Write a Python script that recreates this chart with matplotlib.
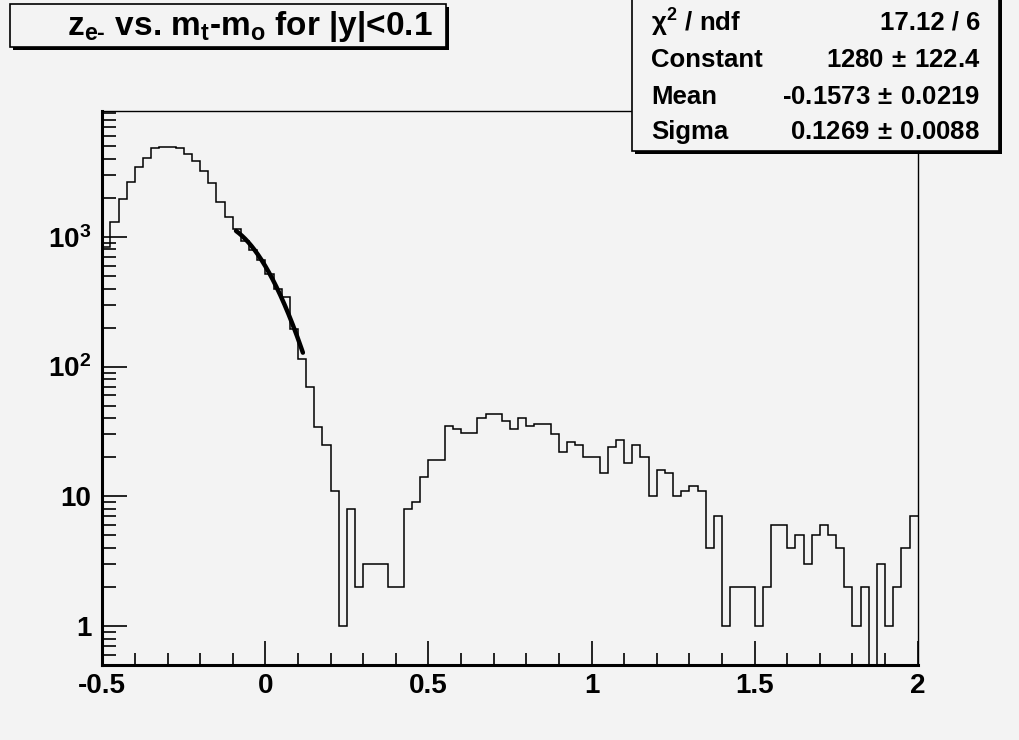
import numpy as np
import matplotlib
matplotlib.use("Agg")
import matplotlib.pyplot as plt
from matplotlib.ticker import FixedLocator, FixedFormatter, NullFormatter

plt.rcParams['font.family'] = ['Liberation Sans', 'DejaVu Sans']
plt.rcParams['font.weight'] = 'bold'
plt.rcParams['mathtext.fontset'] = 'custom'
plt.rcParams['mathtext.rm'] = 'Liberation Sans:bold'
plt.rcParams['mathtext.it'] = 'Liberation Sans:bold'
plt.rcParams['mathtext.bf'] = 'Liberation Sans:bold'

# histogram: 100 bins from -0.5 to 2
x_lo, x_hi, n_bins = -0.5, 2.0, 100
counts = [840, 1300, 1960, 2650, 3440, 4040, 4820, 4910, 4910, 4820,
          4360, 3830, 3220, 2590, 1850, 1416, 1145, 930, 793, 664,
          515, 394, 342, 194, 114, 70, 34, 25, 11, 1,
          8, 2, 3, 3, 3, 2, 2, 8, 9, 14,
          19, 19, 35, 33, 31, 31, 40, 43, 43, 38,
          33, 40, 35, 36, 36, 30, 22, 26, 25, 20,
          20, 15, 24, 27, 18, 25, 20, 10, 16, 15,
          10, 11, 12, 11, 4, 7, 1, 2, 2, 2,
          1, 2, 6, 6, 4, 5, 3, 5, 6, 5,
          4, 2, 1, 2, 0, 3, 1, 2, 4, 7]

# gaussian fit result
fit_const, fit_mean, fit_sigma = 1280, -0.1573, 0.1269
fit_range = (-0.09, 0.115)

stats_names = [r'$\chi^{2}$ / ndf', 'Constant', 'Mean', 'Sigma']
stats_vals = ['17.12 / 6', r'1280$\,\pm\,$122.4', r'-0.1573$\,\pm\,$0.0219', r'0.1269$\,\pm\,$0.0088']

y_ticks = [1, 10, 100, 1000]
y_labels = ['1', '10', r'$10^{2}$', r'$10^{3}$']
x_ticks = [-0.5, 0, 0.5, 1, 1.5, 2]
x_labels = ['-0.5', '0', '0.5', '1', '1.5', '2']

bg = '#f3f3f3'
fig = plt.figure(figsize=(10.2, 7.4), dpi=100, facecolor=bg)
ax = fig.add_axes([102.3 / 1020, 1 - 665 / 740, 815.4 / 1020, 554 / 740])
ax.set_facecolor(bg)

edges = np.linspace(x_lo, x_hi, n_bins + 1)
ax.stairs(counts, edges, color='black', linewidth=1.1, baseline=None)

xf = np.linspace(fit_range[0], fit_range[1], 200)
ax.plot(xf, fit_const * np.exp(-0.5 * ((xf - fit_mean) / fit_sigma) ** 2),
        color='black', linewidth=3.2, solid_capstyle='round')

ax.set_yscale('log')
ax.set_xlim(x_lo, x_hi)
ax.set_ylim(0.5, 9350)

ax.yaxis.set_major_locator(FixedLocator(y_ticks))
ax.yaxis.set_major_formatter(FixedFormatter(y_labels))
minor_y = [m * 10.0 ** d for d in range(-1, 4) for m in range(2, 10)]
ax.yaxis.set_minor_locator(FixedLocator(minor_y))
ax.yaxis.set_minor_formatter(NullFormatter())
ax.xaxis.set_major_locator(FixedLocator(x_ticks))
ax.xaxis.set_major_formatter(FixedFormatter(x_labels))
ax.xaxis.set_minor_locator(FixedLocator(np.arange(-0.4, 2.0, 0.1)))

ax.tick_params(which='both', direction='in', top=False, right=False, colors='black',
               labelsize=20, width=1.2)
ax.tick_params(axis='y', which='major', length=18, pad=8)
ax.tick_params(axis='y', which='minor', length=10)
ax.tick_params(axis='x', which='major', length=17, pad=6)
ax.tick_params(axis='x', which='minor', length=9)
for s in ['left', 'bottom']:
    ax.spines[s].set_linewidth(2.2)
for s in ['top', 'right']:
    ax.spines[s].set_linewidth(1.0)

# boxes with drop shadow, ROOT style
def pbox(x0, y0, x1, y1):
    W, H = 1020, 740
    sh = plt.Rectangle(((x0 + 3) / W, 1 - (y1 + 3) / H), (x1 - x0) / W, (y1 - y0) / H,
                       transform=fig.transFigure, facecolor='black', edgecolor='none')
    bx = plt.Rectangle((x0 / W, 1 - y1 / H), (x1 - x0) / W, (y1 - y0) / H,
                       transform=fig.transFigure, facecolor=bg, edgecolor='black', linewidth=1.2)
    fig.patches.extend([sh, bx])

pbox(10, 4, 446, 47)
fig.text(433 / 1020, 1 - 27 / 740, r'z$_{\rm e\text{-}}$ vs. m$_{\rm t}$-m$_{\rm o}$ for |y|<0.1',
         ha='right', va='center', fontsize=24, fontweight='bold')

pbox(632, -5, 999, 151)
row_y = [23, 60, 97, 132]
for name, val, yy in zip(stats_names, stats_vals, row_y):
    fig.text(651 / 1020, 1 - yy / 740, name, ha='left', va='center', fontsize=18.5, fontweight='bold')
    fig.text(980 / 1020, 1 - yy / 740, val, ha='right', va='center', fontsize=18.5, fontweight='bold')

fig.savefig('out.png', dpi=100, facecolor=bg)
